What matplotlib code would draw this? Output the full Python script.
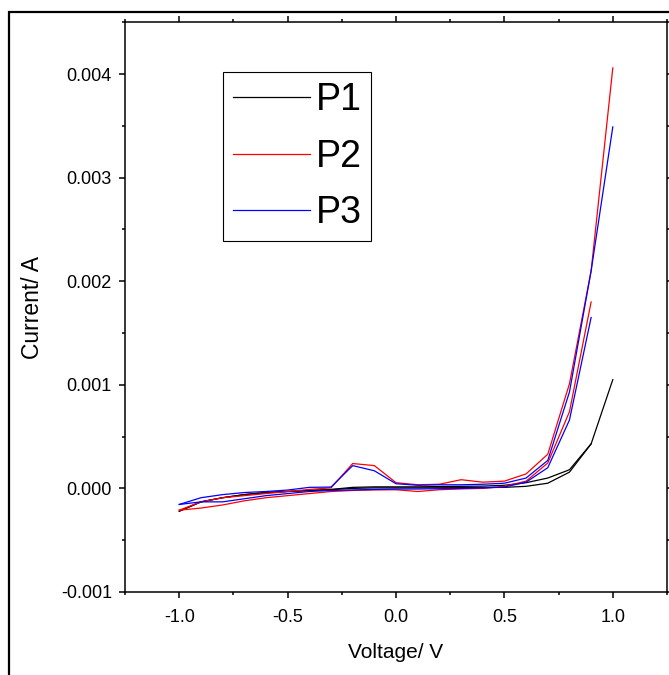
import matplotlib
matplotlib.use("Agg")
import matplotlib.pyplot as plt
from matplotlib.patches import Rectangle
from matplotlib.ticker import MultipleLocator

plt.rcParams['font.family'] = ['Liberation Sans', 'DejaVu Sans']

# voltage steps for the forward sweep (-1.0 -> 1.0) and the return sweep (-1.0 -> 0.9)
v_fwd = [-1.0, -0.9, -0.8, -0.7, -0.6, -0.5, -0.4, -0.3, -0.2, -0.1, 0.0,
         0.1, 0.2, 0.3, 0.4, 0.5, 0.6, 0.7, 0.8, 0.9, 1.0]
v_rev = [-1.0, -0.9, -0.8, -0.7, -0.6, -0.5, -0.4, -0.3, -0.2, -0.1, 0.0,
         0.1, 0.2, 0.3, 0.4, 0.5, 0.6, 0.7, 0.8, 0.9]

# currents (A)
p1_fwd = [-0.00022, -0.00013, -0.00009, -0.00006, -0.00004, -0.00003, -0.00002, -0.00001,
          0.00001, 0.000015, 0.000015, 0.000015, 0.000018, 0.00002, 0.000022, 0.00003,
          0.000055, 0.0001, 0.00018, 0.00043, 0.00105]
p1_rev = [-0.00022, -0.00013, -0.00009, -0.00006, -0.00004, -0.00003, -0.00002, -0.000012,
          0.0, 0.000005, 0.000005, 0.000005, 0.000006, 0.000007, 0.000008, 0.00001,
          0.00002, 0.00005, 0.000157, 0.00043]

p2_fwd = [-0.00021, -0.00013, -0.00009, -0.00007, -0.00005, -0.00003, -0.00001, 0.000005,
          0.00024, 0.00022, 0.000055, 0.000035, 0.00004, 0.000084, 0.00006, 0.00007,
          0.00014, 0.00033, 0.00101, 0.0021, 0.00406]
p2_rev = [-0.00021, -0.00019, -0.00016, -0.00012, -0.00009, -0.00007, -0.00005, -0.00003,
          -0.00002, -0.000015, -0.000013, -0.00003, -0.000013, -0.000005, 0.0, 0.00002,
          0.00007, 0.000245, 0.00074, 0.0018]

p3_fwd = [-0.000155, -0.00009, -0.00006, -0.00004, -0.00003, -0.000016, 0.00001, 0.000013,
          0.00022, 0.00017, 0.000045, 0.00003, 0.000035, 0.000035, 0.00004, 0.00005,
          0.0001, 0.00027, 0.00093, 0.0021, 0.00349]
p3_rev = [-0.000155, -0.00013, -0.00013, -0.0001, -0.00007, -0.00005, -0.00003, -0.00002,
          -0.000015, -0.00001, -0.000006, -0.000006, -0.000003, 0.0, 0.000005, 0.000013,
          0.00006, 0.0002, 0.00066, 0.00165]

fig = plt.figure(figsize=(6.69, 6.75), dpi=100)
ax = fig.add_axes([0.187, 0.123, 0.810, 0.844])

# outer frame around the figure (open on the right/bottom like the crop)
fig.patches.append(Rectangle((9 / 669, -0.05), 1.2, 1 - 12 / 675 + 0.05,
                             transform=fig.transFigure, fill=False,
                             edgecolor='black', linewidth=1.6))

lw = 0.9
ax.plot(v_fwd, p1_fwd, color='black', lw=lw, label='P1')
ax.plot(v_rev, p1_rev, color='black', lw=lw)
ax.plot(v_fwd, p2_fwd, color='red', lw=lw, label='P2')
ax.plot(v_rev, p2_rev, color='red', lw=lw)
ax.plot(v_fwd, p3_fwd, color='blue', lw=lw, label='P3')
ax.plot(v_rev, p3_rev, color='blue', lw=lw)

ax.set_xlim(-1.25, 1.25)
ax.set_ylim(-0.001, 0.0045)
ax.xaxis.set_minor_locator(MultipleLocator(0.25))
ax.yaxis.set_minor_locator(MultipleLocator(0.0005))
ax.set_yticks([-0.001, 0.0, 0.001, 0.002, 0.003, 0.004])
ax.set_yticklabels(['-0.001', '0.000', '0.001', '0.002', '0.003', '0.004'])
ax.set_xticks([-1.0, -0.5, 0.0, 0.5, 1.0])
ax.set_xticklabels(['-1.0', '-0.5', '0.0', '0.5', '1.0'])

for s in ax.spines.values():
    s.set_linewidth(1.1)
ax.tick_params(which='both', direction='out', top=True, right=True, width=1.1)
ax.tick_params(which='major', length=4.5, labelsize=13, pad=5)
ax.tick_params(which='minor', length=2.5)
ax.tick_params(axis='x', which='major', pad=8)

ax.set_xlabel('Voltage/ V', fontsize=15, labelpad=12)
ax.set_ylabel('Current/ A', fontsize=16.5, labelpad=12)

leg = ax.legend(loc='upper left', bbox_to_anchor=(0.181, 0.912), fancybox=False,
                edgecolor='black', framealpha=1, handlelength=2.05, handletextpad=0.15,
                labelspacing=0.55, borderpad=0.26, borderaxespad=0,
                prop={'size': 27})
leg.get_frame().set_linewidth(0.8)

fig.savefig('out.png', dpi=100)
